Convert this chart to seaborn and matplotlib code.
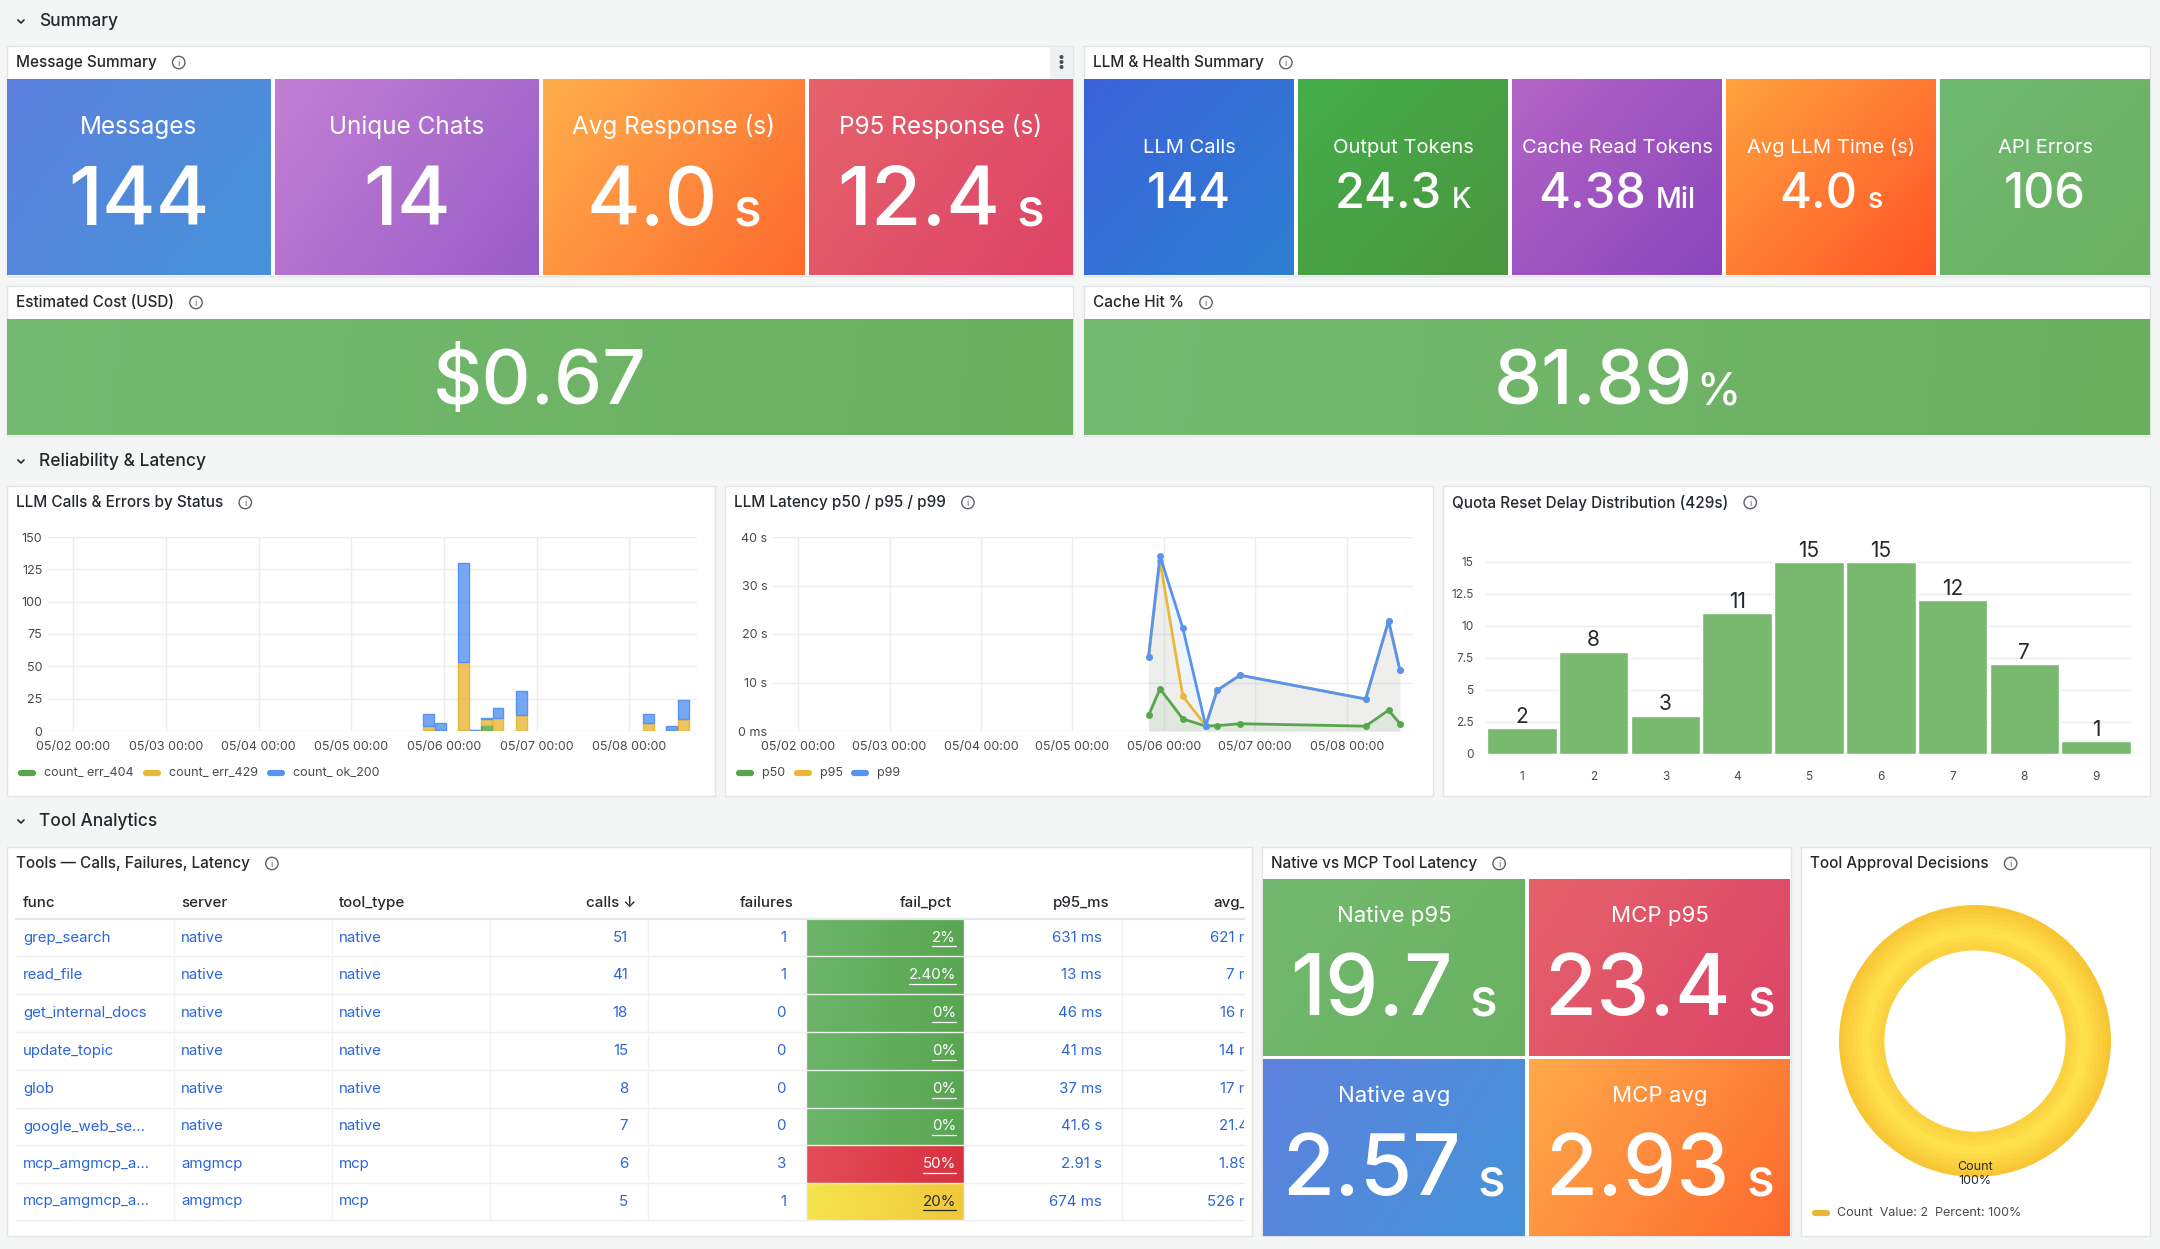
import numpy as np
import pandas as pd
import matplotlib
matplotlib.use("Agg")
import matplotlib.pyplot as plt
import matplotlib.dates as mdates
import matplotlib.colors as mcolors
from matplotlib.patches import Rectangle, Circle
from matplotlib.transforms import Bbox
from matplotlib.ticker import FuncFormatter
import seaborn as sns

# ---------------- data ----------------
msg_titles = ["Messages", "Unique Chats", "Avg Response (s)", "P95 Response (s)"]
msg_values = ["144", "14", "4.0", "12.4"]
msg_units = ["", "", "s", "s"]

llm_titles = ["LLM Calls", "Output Tokens", "Cache Read Tokens", "Avg LLM Time (s)", "API Errors"]
llm_values = ["144", "24.3", "4.38", "4.0", "106"]
llm_units = ["", "K", "Mil", "s", ""]

cost_value = "$0.67"
cache_value = "81.89"
cache_unit = "%"

call_times = ["2025-05-05 20:00", "2025-05-05 23:00", "2025-05-06 05:00", "2025-05-06 08:00",
              "2025-05-06 11:00", "2025-05-06 14:00", "2025-05-06 20:00", "2025-05-08 05:00",
              "2025-05-08 11:00", "2025-05-08 14:00"]
count_err_404 = [1, 0, 1, 0, 5, 0, 0, 0, 1, 0]
count_err_429 = [3, 1, 52, 1, 4, 10, 12, 6, 0, 9]
count_ok_200 = [9, 5, 77, 0, 1, 8, 19, 7, 3, 15]

lat_times = ["2025-05-05 20:00", "2025-05-05 23:00", "2025-05-06 05:00", "2025-05-06 11:00",
             "2025-05-06 14:00", "2025-05-06 20:00", "2025-05-08 05:00", "2025-05-08 11:00",
             "2025-05-08 14:00"]
lat_p50 = [3.2, 8.7, 2.5, 1.0, 1.1, 1.5, 1.0, 4.3, 1.5]
lat_p95 = [15.3, 35.0, 7.2, 1.1, 8.4, 11.5, 6.6, 22.7, 12.5]
lat_p99 = [15.3, 36.1, 21.2, 1.1, 8.4, 11.5, 6.6, 22.7, 12.5]

quota_bins = ["1", "2", "3", "4", "5", "6", "7", "8", "9"]
quota_counts = [2, 8, 3, 11, 15, 15, 12, 7, 1]

table_headers = ["func", "server", "tool_type", "calls \u2193", "failures", "fail_pct", "p95_ms", "avg_ms"]
tool_func = ["grep_search", "read_file", "get_internal_docs", "update_topic", "glob",
             "google_web_se...", "mcp_amgmcp_a...", "mcp_amgmcp_a..."]
tool_server = ["native", "native", "native", "native", "native", "native", "amgmcp", "amgmcp"]
tool_type = ["native", "native", "native", "native", "native", "native", "mcp", "mcp"]
tool_calls = [51, 41, 18, 15, 8, 7, 6, 5]
tool_failures = [1, 1, 0, 0, 0, 0, 3, 1]
tool_fail_pct = [2, 2.4, 0, 0, 0, 0, 50, 20]
tool_fail_label = ["2%", "2.40%", "0%", "0%", "0%", "0%", "50%", "20%"]
tool_p95 = ["631 ms", "13 ms", "46 ms", "41 ms", "37 ms", "41.6 s", "2.91 s", "674 ms"]
tool_avg = ["621 ms", "7 ms", "16 ms", "14 ms", "17 ms", "21.4 s", "1.89 s", "526 ms"]

lat_titles = ["Native p95", "MCP p95", "Native avg", "MCP avg"]
lat_values = ["19.7", "23.4", "2.57", "2.93"]
lat_units = ["s", "s", "s", "s"]

approval_labels = ["Count"]
approval_values = [2]

# ---------------- style ----------------
sns.set_theme(style="white")
plt.rcParams["font.family"] = ["Inter", "DejaVu Sans"]

W, H, DPI = 2160, 1249, 100
PAGE = "#F4F5F5"
PANEL = "#FFFFFF"
BORDER = "#E2E4E7"
TXT = "#24292E"
SUB = "#464B50"
LINK = "#2A66D9"
GREEN, YELLOW, BLUE = "#56A64B", "#EAB839", "#5794F2"
GRID = "#ECEDEF"

fig = plt.figure(figsize=(W / DPI, H / DPI), dpi=DPI, facecolor=PAGE)
bg = fig.add_axes([0, 0, 1, 1])
bg.set_xlim(0, W)
bg.set_ylim(H, 0)
bg.set_autoscale_on(False)
bg.axis("off")
R = fig.canvas.get_renderer()


def frac(x0, y0, x1, y1):
    return [x0 / W, 1 - y1 / H, (x1 - x0) / W, (y1 - y0) / H]


def mix(c1, c2, t):
    a = np.array(mcolors.to_rgb(c1))
    b = np.array(mcolors.to_rgb(c2))
    return tuple(a * (1 - t) + b * t)


def gradient(x0, y0, x1, y1, c1, c2, z=2):
    n = 48
    xx, yy = np.meshgrid(np.linspace(0, 1, n), np.linspace(0, 1, n))
    w, h = x1 - x0, y1 - y0
    t = (xx * w * w + yy * h * h) / (w * w + h * h)
    a = np.array(mcolors.to_rgb(c1))
    b = np.array(mcolors.to_rgb(c2))
    img = a * (1 - t[..., None]) + b * t[..., None]
    bg.imshow(img, extent=(x0, x1, y1, y0), origin="upper", aspect="auto",
              interpolation="bilinear", zorder=z)


def info_icon(x, y):
    bg.add_patch(Circle((x, y), 6.2, fill=False, ec="#5C6166", lw=1.0, zorder=5))
    bg.text(x, y + 0.5, "i", fontsize=6.5, color="#5C6166", ha="center", va="center", zorder=6)


def panel(x0, y0, x1, y1, title):
    bg.add_patch(Rectangle((x0, y0), x1 - x0, y1 - y0, facecolor=PANEL, edgecolor=BORDER,
                           lw=1, zorder=1))
    t = bg.text(x0 + 9, y0 + 16.5, title, fontsize=11, color=TXT, ha="left", va="center",
                fontweight="medium", zorder=5)
    w = t.get_window_extent(R).width
    info_icon(x0 + 9 + w + 22, y0 + 16.5)


def row_header(y, text):
    bg.plot([18, 21, 24], [y - 1.5, y + 1.5, y - 1.5], color=TXT, lw=1.2, zorder=5)
    bg.text(39, y, text, fontsize=12.5, color=TXT, ha="left", va="center",
            fontweight="medium", zorder=5)


def value_text(cx, base, val, unit, fs, ufs, gap=None, color="white"):
    t = bg.text(0, base, val, fontsize=fs, color=color, ha="left", va="baseline",
                fontweight="medium", zorder=4)
    w1 = t.get_window_extent(R).width
    w2, u = 0, None
    if unit:
        u = bg.text(0, base, unit, fontsize=ufs, color=color, ha="left", va="baseline",
                    fontweight="medium", zorder=4)
        w2 = u.get_window_extent(R).width
    g = (0.2 * fs * DPI / 72 if gap is None else gap) if unit else 0
    left = cx - (w1 + g + w2) / 2
    t.set_x(left)
    if u is not None:
        u.set_x(left + w1 + g)


def stat(box, c1, c2, title, tfs, tbase, val, unit, vfs, ufs, vbase, gap=None):
    x0, y0, x1, y1 = box
    gradient(x0, y0, x1, y1, c1, c2)
    cx = (x0 + x1) / 2
    if title:
        bg.text(cx, tbase, title, fontsize=tfs, color="white", ha="center", va="baseline", zorder=4)
    value_text(cx, vbase, val, unit, vfs, ufs, gap)


def legend_item(x, y, color, label):
    bg.plot([x, x + 12], [y, y], color=color, lw=4.5, solid_capstyle="round", zorder=5)
    bg.text(x + 23, y, label, fontsize=9, color=SUB, ha="left", va="center", zorder=5)


# ---------------- row headers ----------------
row_header(21.5, "Summary")
row_header(461.5, "Reliability & Latency")
row_header(821.5, "Tool Analytics")

# ---------------- Summary ----------------
panel(7, 46, 1073, 276, "Message Summary")
bg.add_patch(Rectangle((1050, 46.5), 23, 32, facecolor="#EFF0F1", edgecolor="none", zorder=2))
for dy in (-5, 0, 5):
    bg.add_patch(Circle((1061.5, 62 + dy), 1.3, color="#4A4F55", zorder=3))

msg_boxes = [(7, 79, 271, 275), (275, 79, 539, 275), (543, 79, 805, 275), (809, 79, 1073, 275)]
msg_cols = [("#5C80DE", "#4693DA"), ("#C27FD4", "#995DC8"), ("#FFAE4C", "#FD6A2E"),
            ("#E6626B", "#DD4367")]
for box, (c1, c2), ttl, v, u in zip(msg_boxes, msg_cols, msg_titles, msg_values, msg_units):
    stat(box, c1, c2, ttl, 17.5, 134, v, u, 59, 37, 225)

panel(1084, 46, 2150, 276, "LLM & Health Summary")
llm_boxes = [(1084, 79, 1294, 275), (1298, 79, 1508, 275), (1512, 79, 1722, 275),
             (1726, 79, 1936, 275), (1940, 79, 2150, 275)]
llm_cols = [("#3B62D9", "#2E80D2"), ("#44AE4A", "#4C963F"), ("#B364C5", "#8A46BC"),
            ("#FFA23F", "#FF5426"), ("#6FBA71", "#6BAF61")]
for box, (c1, c2), ttl, v, u in zip(llm_boxes, llm_cols, llm_titles, llm_values, llm_units):
    stat(box, c1, c2, ttl, 14.5, 152.5, v, u, 35, 20.5, 208)

panel(7, 286, 1073, 436, "Estimated Cost (USD)")
stat((7, 319, 1073, 435), "#74BB71", "#6AAE5E", "", 0, 0, cost_value, "", 55, 0, 404)
panel(1084, 286, 2150, 436, "Cache Hit %")
stat((1084, 319, 2150, 435), "#74BB71", "#6AAE5E", "", 0, 0, cache_value, cache_unit, 55, 32, 404,
     gap=4)

# ---------------- Reliability & Latency ----------------
panel(7, 486, 715, 796, "LLM Calls & Errors by Status")
panel(725, 486, 1433, 796, "LLM Latency p50 / p95 / p99")
panel(1443, 486, 2150, 796, "Quota Reset Delay Distribution (429s)")

x_lo = mdates.date2num(pd.Timestamp("2025-05-01 17:25"))
x_hi = mdates.date2num(pd.Timestamp("2025-05-08 17:25"))


def style_time_axis(ax):
    ax.set_xlim(x_lo, x_hi)
    ax.xaxis.set_major_locator(mdates.DayLocator())
    ax.xaxis.set_major_formatter(mdates.DateFormatter("%m/%d %H:%M"))
    ax.grid(True, color=GRID, lw=1)
    ax.set_axisbelow(True)
    for s in ax.spines.values():
        s.set_visible(False)
    ax.tick_params(axis="both", length=0, labelsize=9, labelcolor=SUB)
    ax.tick_params(axis="x", pad=7)
    ax.tick_params(axis="y", pad=4)
    ax.set_xlabel("")
    ax.set_ylabel("")


# stacked bars
ax1 = fig.add_axes(frac(48, 537, 696.5, 731), facecolor="none")
t1 = mdates.date2num(pd.to_datetime(call_times))
bottom = np.zeros(len(t1))
for vals, col in [(count_err_404, GREEN), (count_err_429, YELLOW), (count_ok_200, BLUE)]:
    vals = np.array(vals, float)
    ax1.bar(t1, vals, width=0.118, bottom=bottom, color=mcolors.to_rgba(col, 0.82),
            edgecolor=col, linewidth=1, zorder=3)
    bottom += vals
style_time_axis(ax1)
ax1.set_ylim(0, 150)
ax1.set_yticks([0, 25, 50, 75, 100, 125, 150])
legend_item(21, 773, GREEN, "count_ err_404")
legend_item(146, 773, YELLOW, "count_ err_429")
legend_item(270, 773, BLUE, "count_ ok_200")

# latency lines
ax2 = fig.add_axes(frac(773, 537, 1413, 731), facecolor="none")
lt = pd.to_datetime(lat_times)
lat_df = pd.concat([
    pd.DataFrame({"time": lt, "value": lat_p50, "series": "p50"}),
    pd.DataFrame({"time": lt, "value": lat_p95, "series": "p95"}),
    pd.DataFrame({"time": lt, "value": lat_p99, "series": "p99"}),
])
tn = mdates.date2num(lt)
for vals, col in [(lat_p50, GREEN), (lat_p95, YELLOW), (lat_p99, BLUE)]:
    ax2.fill_between(tn, 0, vals, color=col, alpha=0.09, lw=0, zorder=2)
sns.lineplot(data=lat_df, x="time", y="value", hue="series", hue_order=["p50", "p95", "p99"],
             palette={"p50": GREEN, "p95": YELLOW, "p99": BLUE}, marker="o", markersize=5,
             markeredgewidth=0, linewidth=2, legend=False, ax=ax2, zorder=3)
style_time_axis(ax2)
ax2.set_ylim(0, 40)
ax2.set_yticks([0, 10, 20, 30, 40])
ax2.yaxis.set_major_formatter(FuncFormatter(lambda v, p: "0 ms" if v == 0 else f"{int(v)} s"))
legend_item(739, 773, GREEN, "p50")
legend_item(797, 773, YELLOW, "p95")
legend_item(854, 773, BLUE, "p99")

# quota histogram
ax3 = fig.add_axes(frac(1486, 537, 2132, 754), facecolor="none")
sns.barplot(x=quota_bins, y=quota_counts, order=quota_bins, color="#78B86F", saturation=1,
            width=0.97, ax=ax3, zorder=3)
for c in ax3.containers:
    ax3.bar_label(c, fontsize=15, color=TXT, padding=1)
ax3.set_xlim(-0.5, 8.5)
ax3.set_ylim(0, 16.95)
ax3.set_yticks([0, 2.5, 5, 7.5, 10, 12.5, 15])
ax3.yaxis.set_major_formatter(FuncFormatter(lambda v, p: f"{v:g}"))
ax3.grid(True, axis="y", color=GRID, lw=1)
ax3.set_axisbelow(True)
for s in ax3.spines.values():
    s.set_visible(False)
ax3.tick_params(axis="both", length=0, labelsize=8.5, labelcolor=SUB)
ax3.tick_params(axis="x", pad=12)
ax3.tick_params(axis="y", pad=9)
ax3.set_xlabel("")
ax3.set_ylabel("")

# ---------------- Tool Analytics ----------------
panel(7, 847, 1252, 1236, "Tools \u2014 Calls, Failures, Latency")
col_edges = [16, 174, 332, 490, 648, 806, 964, 1122, 1280]
row_lines = [919, 956, 994, 1032, 1070, 1108, 1145, 1183, 1220]
clipbox = Bbox.from_extents(0, 0, 1244, H)
TFS = 10.8

for i, hdr in enumerate(table_headers):
    if i < 3:
        t = bg.text(col_edges[i] + 7, 903, hdr, fontsize=TFS, color=TXT, ha="left", va="center",
                    fontweight="medium", zorder=5)
    else:
        t = bg.text(col_edges[i + 1] - 12, 903, hdr, fontsize=TFS, color=TXT, ha="right",
                    va="center", fontweight="medium", zorder=5)
    t.set_clip_box(clipbox)
    t.set_clip_on(True)

bg.plot([16, 1244], [row_lines[0], row_lines[0]], color="#E4E6E9", lw=1.6, zorder=3)
for y in row_lines[1:]:
    bg.plot([16, 1244], [y, y], color="#ECEEF0", lw=1, zorder=3)
for x in col_edges[1:-1]:
    bg.plot([x, x], [row_lines[0], row_lines[-1]], color="#F1F2F3", lw=1, zorder=3)

for r in range(len(tool_func)):
    ya, yb = row_lines[r], row_lines[r + 1]
    yc = (ya + yb) / 2
    pct = tool_fail_pct[r]
    if pct >= 30:
        c1, c2, ctext = "#E34D57", "#D9303F", "white"
    elif pct >= 10:
        c1, c2, ctext = "#F6E54E", "#F0C83A", TXT
    else:
        c1, c2, ctext = "#6CB56A", "#58A651", "white"
    gradient(806, ya + 1, 964, yb, c1, c2, z=2)
    left_vals = [tool_func[r], tool_server[r], tool_type[r]]
    for i, v in enumerate(left_vals):
        bg.text(col_edges[i] + 7, yc, v, fontsize=TFS, color=LINK, ha="left", va="center", zorder=5)
    right_vals = [str(tool_calls[r]), str(tool_failures[r])]
    for j, v in enumerate(right_vals):
        bg.text(col_edges[4 + j] - 20, yc, v, fontsize=TFS, color=LINK, ha="right", va="center",
                zorder=5)
    ft = bg.text(964 - 8, yc, tool_fail_label[r], fontsize=TFS, color=ctext, ha="right",
                 va="center", zorder=5)
    ext = ft.get_window_extent(R)
    bg.plot([ext.x0, ext.x1], [yc + 8.5, yc + 8.5], color=ctext, lw=0.9, zorder=5)
    bg.text(1122 - 20, yc, tool_p95[r], fontsize=TFS, color=LINK, ha="right", va="center", zorder=5)
    at = bg.text(1280 - 20, yc, tool_avg[r], fontsize=TFS, color=LINK, ha="right", va="center",
                 zorder=5)
    at.set_clip_box(clipbox)
    at.set_clip_on(True)

panel(1262, 847, 1791, 1236, "Native vs MCP Tool Latency")
lat_boxes = [(1263, 879, 1525, 1056), (1529, 879, 1790, 1056),
             (1263, 1059, 1525, 1236), (1529, 1059, 1790, 1236)]
lat_cols = [("#72BA6F", "#6AB061"), ("#E5626A", "#DC4467"), ("#5D82DE", "#4693D9"),
            ("#FFAA4A", "#FD6A2E")]
lat_tb = [922, 922, 1102, 1102]
lat_vb = [1015, 1015, 1195, 1195]
for box, (c1, c2), ttl, v, u, tb, vb in zip(lat_boxes, lat_cols, lat_titles, lat_values, lat_units,
                                            lat_tb, lat_vb):
    stat(box, c1, c2, ttl, 16, tb, v, u, 61, 37, vb)

panel(1801, 847, 2150, 1236, "Tool Approval Decisions")
dax = fig.add_axes(frac(1839, 905, 2111, 1177), facecolor="none")
n_ring = 10
radii = np.linspace(1.0, 0.67, n_ring + 1)
for i in range(n_ring):
    r_out, r_in = radii[i], radii[i + 1]
    d = abs((r_out + r_in) / 2 - 0.80) / 0.2
    dax.pie(approval_values, radius=r_out, colors=[mix("#FFE34E", "#F7C332", min(d, 1))],
            startangle=90, wedgeprops=dict(width=r_out - r_in + 0.004, linewidth=0))
dax.set_xlim(-1, 1)
dax.set_ylim(-1, 1)
dax.set_aspect("equal")
dax.axis("off")
dax.text(1975, 1167, approval_labels[0], fontsize=9, color=TXT, ha="center", va="center",
         transform=bg.transData, zorder=10, clip_on=False)
dax.text(1975, 1181, "100%", fontsize=9, color=TXT, ha="center", va="center",
         transform=bg.transData, zorder=10, clip_on=False)
bg.plot([1815, 1827], [1213, 1213], color=YELLOW, lw=4.5, solid_capstyle="round", zorder=5)
bg.text(1837, 1213, f"{approval_labels[0]}  Value: {approval_values[0]}  Percent: 100%",
        fontsize=9, color=SUB, ha="left", va="center", zorder=5)

bg.set_xlim(0, W)
bg.set_ylim(H, 0)
fig.savefig("out.png", dpi=DPI, facecolor=PAGE)
